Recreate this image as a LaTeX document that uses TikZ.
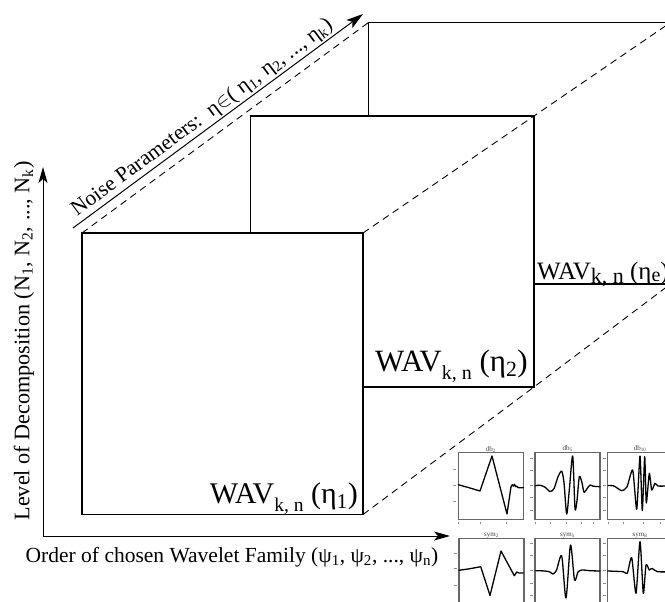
\documentclass[tikz,border=0pt]{standalone}
\usepackage{fontspec}
\setmainfont{Liberation Serif}
\usetikzlibrary{arrows.meta}

\tikzset{
  slab/.style={draw=black, fill=white, line width=1.3pt, inner sep=0pt, outer sep=0pt, anchor=north west},
  wire/.style={draw=black, line width=0.9pt, dash pattern=on 7pt off 5pt},
  axisarrow/.style={draw=black, line width=1pt, -{Stealth[length=17pt,width=10pt,inset=4pt]}},
  biaxis/.style={draw=black, line width=1pt, {Stealth[length=16pt,width=9pt,inset=4pt]}-{Stealth[length=16pt,width=9pt,inset=4pt]}},
  axislabel/.style={font=\fontsize{21.5}{21.5}\selectfont, inner sep=0pt},
  wavlabel/.style={inner sep=0pt},
  pframe/.style={draw=black!60, line width=1.3pt, inner sep=0pt, outer sep=0pt, anchor=north west,
                 minimum width=65pt, minimum height=66.6pt},
  ptitle/.style={font=\fontsize{7}{7}\selectfont, text=black!75, inner sep=0.5pt},
  wave/.style={draw=black, line width=1.3pt, line join=round, line cap=round},
  tickm/.style={draw=black!45, line width=0.7pt},
}

\begin{document}
\begin{tikzpicture}[x=1pt, y=-1pt]
\useasboundingbox (0,0) rectangle (665,602);
\clip (0,0) rectangle (665,602);

% stacked result slabs, back to front
\node[slab, minimum width=302pt,   minimum height=261.5pt] (back)   at (368.5,22.5) {};
\node[slab, minimum width=283.5pt, minimum height=271pt]   (middle) at (250.5,116)  {};
\node[slab, minimum width=281pt,   minimum height=281.5pt] (front)  at (82,233)     {};

% depth edges
\draw[wire] (front.north west) -- (back.north west);
\draw[wire] (front.north east) -- (middle.north east) -- (back.north east);
\draw[wire] (front.south east) -- (middle.south east) -- (back.south east);

% slab captions
\node[wavlabel, anchor=base east] (lbl1) at (358,503)
  {\fontsize{30}{30}\selectfont WAV\raisebox{-8pt}{\fontsize{19.5}{19.5}\selectfont k, n} (η\textsubscript{1})};
\node[wavlabel, anchor=base east] (lbl2) at (528,371)
  {\fontsize{31}{31}\selectfont WAV\raisebox{-8pt}{\fontsize{20}{20}\selectfont k, n} (η\textsubscript{2})};
\node[wavlabel, anchor=base west] (lble) at (537,279)
  {\fontsize{25}{25}\selectfont WAV\raisebox{-4.5pt}{\fontsize{22}{22}\selectfont k, n} (η\raisebox{-2pt}{\fontsize{20}{20}\selectfont e})};

% axes
\coordinate (O)    at (43,536);
\coordinate (Ytip) at (43,167);
\coordinate (Xtip) at (450,536);
\draw[biaxis] (Ytip) -- (O) -- (Xtip);
\node[axislabel, rotate=90, font=\fontsize{22.2}{22.2}\selectfont] (ylab) at (24,341)
  {Level of Decomposition (N\textsubscript{1}, N\textsubscript{2}, ..., N\textsubscript{k})};
\node[axislabel, anchor=base] (xlab) at (232,562)
  {Order of chosen Wavelet Family (ψ\textsubscript{1}, ψ\textsubscript{2}, ..., ψ\textsubscript{n})};

% noise direction
\coordinate (ns) at (73,228);
\coordinate (ne) at (363,14);
\draw[axisarrow] (ns) -- (ne)
  node[axislabel, pos=0.47, sloped, above=1.5pt]
  (nlab) {Noise Parameters:\ \ η$\in$( η\textsubscript{1}, η\textsubscript{2}, ..., η\textsubscript{k})};

% wavelet thumbnails
\node[pframe] (p1) at (458.3,452.7) {};
\node[pframe] (p2) at (535,452.7)   {};
\node[pframe] (p3) at (607.5,452.7) {};
\node[pframe] (p4) at (459,538.3)   {};
\node[pframe] (p5) at (535,538.3)   {};
\node[pframe] (p6) at (607.5,538.3) {};

\node[ptitle, above] (t1) at (p1.north) {db\textsubscript{2}};
\node[ptitle, above] (t2) at (p2.north) {db\textsubscript{5}};
\node[ptitle, above] (t3) at (p3.north) {db\textsubscript{10}};
\node[ptitle, above] (t4) at (p4.north) {sym\textsubscript{2}};
\node[ptitle, above] (t5) at (p5.north) {sym\textsubscript{5}};
\node[ptitle, above] (t6) at (p6.north) {sym\textsubscript{8}};

% db2
\begin{scope}[shift={(p1.north west)}]
  \foreach \t in {16.6,32.3,49} \draw[tickm] (-5,\t) -- (-2,\t);
  \foreach \t in {0,22.4,48.4} \draw[tickm] (\t,69) -- (\t,71.5);
  \draw[wave] (0,32) -- (10,34.8) -- (21.7,38.3) -- (33.7,3.3) -- (48.7,61.3) -- (52.7,34)
    -- (54,32) -- (55.2,33.5) -- (56.2,31.5) -- (57.4,34) -- (58.5,33.5) -- (60,35) -- (65,35);
\end{scope}

% db5
\begin{scope}[shift={(p2.north west)}]
  \foreach \t in {5.6,17.3,33,44.6,58} \draw[tickm] (-5,\t) -- (-2,\t);
  \foreach \t in {0.7,15,31,46.7,58.3} \draw[tickm] (\t,69) -- (\t,71.5);
  \draw[wave] plot[smooth, tension=0.45] coordinates {
    (0.5,33) (5,32.5) (10,34.5) (15,38.8) (19,36) (23,24) (26.7,18.5) (29,30) (31.7,61.3)
    (34.5,35) (37.7,3.3) (40,55.6) (42,48) (44.3,24) (47,30) (49,39.5) (52,36) (55,32.3)
    (58,33.5) (65,34)};
\end{scope}

% db10
\begin{scope}[shift={(p3.north west)}]
  \foreach \t in {5.6,17.3,33,44.6,58} \draw[tickm] (-5,\t) -- (-2,\t);
  \foreach \t in {0.8,15.8,35.8,52.5} \draw[tickm] (\t,69) -- (\t,71.5);
  \draw[wave] plot[smooth, tension=0.35] coordinates {
    (0.8,32.8) (6.5,33.3) (14.2,38) (19.5,34.3) (25.2,17.3) (29.2,56.6) (32.5,3.3)
    (34.8,58) (37.2,4) (38.8,50.3) (41.8,20.6) (44.2,37.3) (47.5,30.6) (50.5,33.3)
    (60,33.3) (66,33.3)};
\end{scope}

% sym2
\begin{scope}[shift={(p4.north west)}]
  \foreach \t in {15,30,47.4} \draw[tickm] (-5,\t) -- (-2,\t);
  \draw[wave] (0,32) -- (11,30.4) -- (21.7,28.4) -- (31,57.2) -- (42,12.7) -- (55.3,37.4)
    -- (57.7,33.7) -- (60,34.7) -- (64.3,34.7);
\end{scope}

% sym5
\begin{scope}[shift={(p5.north west)}]
  \foreach \t in {5,16.7,32.4,45,56.7} \draw[tickm] (-5,\t) -- (-2,\t);
  \draw[wave] plot[smooth, tension=0.45] coordinates {
    (0.7,32.4) (10,32.7) (15,33.7) (18,35.7) (21.5,32) (26.7,17.7) (31,59.7) (35.5,6.7)
    (39.5,41.7) (43,33.7) (47,31.7) (55,32.4) (65,32.7)};
\end{scope}

% sym8
\begin{scope}[shift={(p6.north west)}]
  \foreach \t in {5,16.7,32.4,45,56.7} \draw[tickm] (-5,\t) -- (-2,\t);
  \draw[wave] plot[smooth, tension=0.4] coordinates {
    (0,32.7) (15.8,33.4) (19.8,35) (24.2,19.4) (28.5,55) (32.5,3.4) (35.8,55) (38.5,26.7)
    (41.8,31.7) (44.5,30) (50,33.4) (66,33.4)};
\end{scope}

\end{tikzpicture}
\end{document}
